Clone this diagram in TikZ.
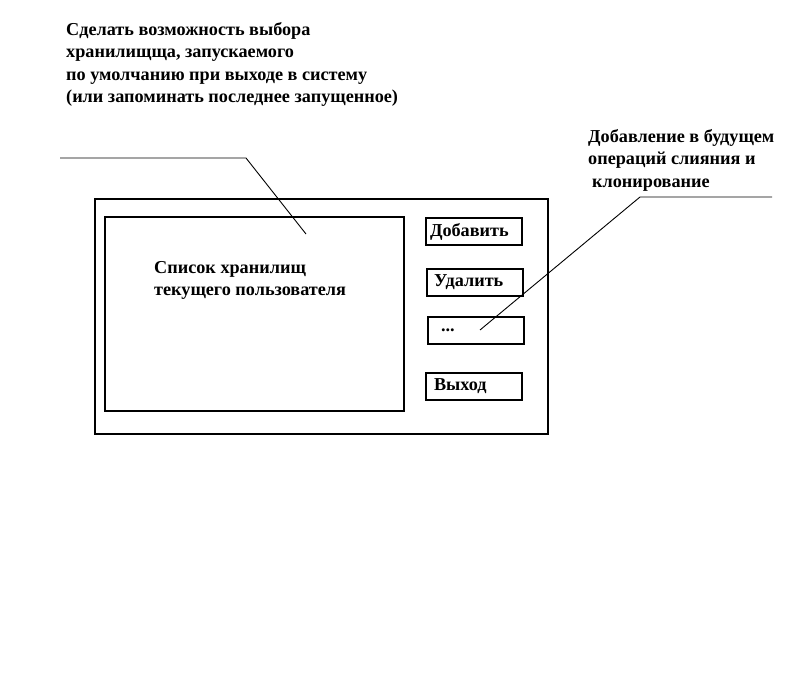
\documentclass[tikz,border=0pt]{standalone}
\usepackage{fontspec}
\setmainfont{Liberation Serif}
\usepackage{tikz}

\begin{document}
\begin{tikzpicture}[x=1pt, y=-1pt, font=\bfseries\fontsize{18.2}{22.5}\selectfont]
    \tikzset{frame/.style={draw, line width=2pt, anchor=north west, inner sep=0pt},
             btn/.style={frame, minimum width=96pt, minimum height=27pt, text width=88pt, inner xsep=4pt, align=left},
             note/.style={anchor=north west, inner sep=0pt, align=left},
             lead/.style={draw, line width=0.9pt}}
    \useasboundingbox (0,0) rectangle (790,699);
    % window and list
    \node[frame, minimum width=453pt, minimum height=235pt] at (94,198) (window) {};
    \node[frame, minimum width=299pt, minimum height=194pt] at (104,216) (list) {};
    \node[note] at (154,261) (listtext) {Список хранилищ\\текущего пользователя};
    % buttons
    \node[btn] at (425,217) (add) {Добавить};
    \node[btn] at (426,268) (del) {\hspace*{3pt}Удалить};
    \node[btn] at (427,316) (more) {\hspace*{9pt}...};
    \node[btn] at (425,372) (quit) {\hspace*{4pt}Выход};
    % notes
    \node[note] at (66,22) (note1) {Сделать возможность выбора\\хранилищща, запускаемого\\по умолчанию при выходе в систему\\(или запоминать последнее запущенное)};
    \node[note] at (588,129) (note2) {Добавление в будущем\\операций слияния и\\\hspace*{4pt}клонирование};
    % leaders
    \coordinate (l1start) at (60,158);
    \coordinate (l1bend) at (246,158);
    \coordinate (l1end) at (306,234);
    \coordinate (l2start) at (772,197);
    \coordinate (l2bend) at (640,197);
    \coordinate (l2end) at (480,330);
    \draw[lead] (l1start) -- (l1bend) -- (l1end);
    \draw[lead] (l2start) -- (l2bend) -- (l2end);
\end{tikzpicture}
\end{document}
